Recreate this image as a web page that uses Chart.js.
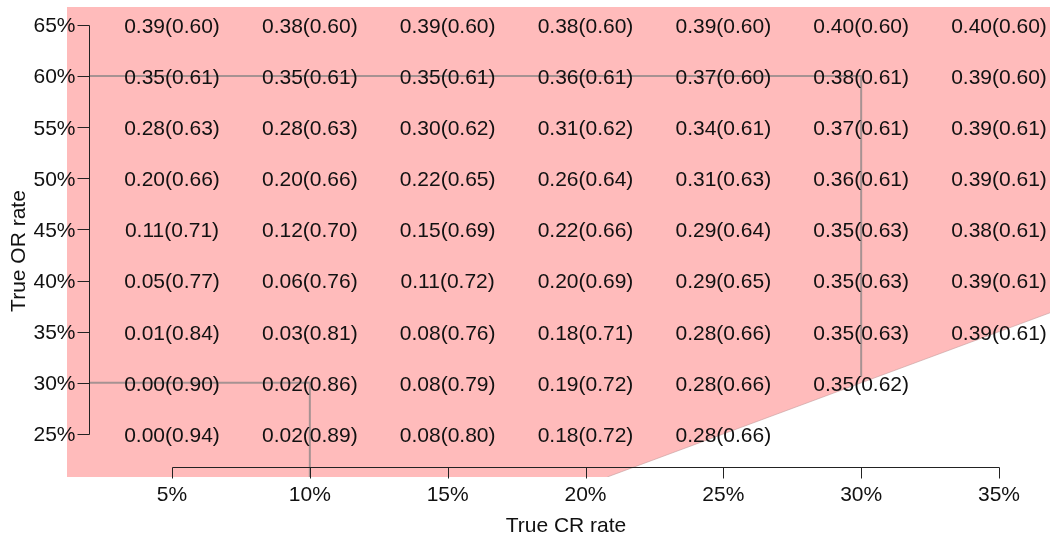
<!DOCTYPE html>
<html><head><meta charset="utf-8">
<script src="https://cdn.jsdelivr.net/npm/chart.js@4.4.0/dist/chart.umd.min.js"></script>
<style>html,body{margin:0;padding:0;background:#fff;overflow:hidden}canvas{display:block}</style>
</head><body>
<canvas id="c" width="1050" height="535"></canvas>
<script>
// ---- data ----
const crRates = [5, 10, 15, 20, 25, 30, 35];           // True CR rate (%)
const orRates = [65, 60, 55, 50, 45, 40, 35, 30, 25];  // True OR rate (%)
const xTickLabels = ['5%', '10%', '15%', '20%', '25%', '30%', '35%'];
const yTickLabels = ['65%', '60%', '55%', '50%', '45%', '40%', '35%', '30%', '25%'];
// rows follow orRates, columns follow crRates ('' = no value)
const cellRows = [
  ['0.39(0.60)', '0.38(0.60)', '0.39(0.60)', '0.38(0.60)', '0.39(0.60)', '0.40(0.60)', '0.40(0.60)'],
  ['0.35(0.61)', '0.35(0.61)', '0.35(0.61)', '0.36(0.61)', '0.37(0.60)', '0.38(0.61)', '0.39(0.60)'],
  ['0.28(0.63)', '0.28(0.63)', '0.30(0.62)', '0.31(0.62)', '0.34(0.61)', '0.37(0.61)', '0.39(0.61)'],
  ['0.20(0.66)', '0.20(0.66)', '0.22(0.65)', '0.26(0.64)', '0.31(0.63)', '0.36(0.61)', '0.39(0.61)'],
  ['0.11(0.71)', '0.12(0.70)', '0.15(0.69)', '0.22(0.66)', '0.29(0.64)', '0.35(0.63)', '0.38(0.61)'],
  ['0.05(0.77)', '0.06(0.76)', '0.11(0.72)', '0.20(0.69)', '0.29(0.65)', '0.35(0.63)', '0.39(0.61)'],
  ['0.01(0.84)', '0.03(0.81)', '0.08(0.76)', '0.18(0.71)', '0.28(0.66)', '0.35(0.63)', '0.39(0.61)'],
  ['0.00(0.90)', '0.02(0.86)', '0.08(0.79)', '0.19(0.72)', '0.28(0.66)', '0.35(0.62)', ''],
  ['0.00(0.94)', '0.02(0.89)', '0.08(0.80)', '0.18(0.72)', '0.28(0.66)', '', '']
];
// reference paths (CR %, OR %)
const pathA = [{x: 2, y: 60}, {x: 30, y: 60}, {x: 30, y: 30.6}];
const pathB = [{x: 2, y: 30}, {x: 10, y: 30}, {x: 10, y: 20.79}];

// ---- scale range / axis placement ----
const X_MIN = 1.191, X_MAX = 36.85, Y_MIN = 20.79, Y_MAX = 66.76;
const Y_AXIS_AT_CR = 2.0, X_AXIS_AT_OR = 21.77;
const FONT = '"Liberation Sans", Arial, Helvetica, sans-serif';

// region where OR >= CR, bounded below by the OR = CR diagonal
const regionLower = [{x: X_MIN, y: Y_MIN}, {x: Y_MIN, y: Y_MIN}, {x: X_MAX, y: X_MAX}];
const regionEdge = [{x: Y_MIN, y: Y_MIN}, {x: X_MAX, y: X_MAX}];

const cellPoints = [];
orRates.forEach((o, i) => crRates.forEach((c, j) => {
  if (cellRows[i][j]) cellPoints.push({x: c, y: o, t: cellRows[i][j]});
}));

const rPlugin = {
  id: 'rstyle',
  afterDatasetsDraw(chart) {
    const {ctx, scales: {x, y}} = chart;
    ctx.save();
    // cell labels
    const meta = chart.getDatasetMeta(4);
    ctx.fillStyle = '#111';
    ctx.font = '21px ' + FONT;
    ctx.textAlign = 'center';
    ctx.textBaseline = 'middle';
    meta.data.forEach((el, k) => {
      ctx.fillText(cellPoints[k].t, el.x, el.y + 2);
    });
    // y axis
    ctx.strokeStyle = '#222';
    ctx.lineWidth = 1;
    const ax = Math.round(x.getPixelForValue(Y_AXIS_AT_CR)) + 0.5;
    const yTop = y.getPixelForValue(orRates[0]);
    const yBot = y.getPixelForValue(orRates[orRates.length - 1]);
    ctx.beginPath();
    ctx.moveTo(ax, Math.round(yTop) + 0.5);
    ctx.lineTo(ax, Math.round(yBot) + 0.5);
    orRates.forEach(o => {
      const py = Math.round(y.getPixelForValue(o)) + 0.5;
      ctx.moveTo(ax, py); ctx.lineTo(ax - 12, py);
    });
    ctx.stroke();
    ctx.fillStyle = '#111';
    ctx.textAlign = 'right';
    ctx.textBaseline = 'middle';
    orRates.forEach((o, i) => {
      ctx.fillText(yTickLabels[i], ax - 14, y.getPixelForValue(o) + 1.5);
    });
    // x axis
    const ay = Math.round(y.getPixelForValue(X_AXIS_AT_OR)) + 0.5;
    ctx.beginPath();
    ctx.moveTo(Math.round(x.getPixelForValue(crRates[0])) + 0.5, ay);
    ctx.lineTo(Math.round(x.getPixelForValue(crRates[crRates.length - 1])) + 0.5, ay);
    crRates.forEach(c => {
      const px = Math.round(x.getPixelForValue(c)) + 0.5;
      ctx.moveTo(px, ay); ctx.lineTo(px, ay + 11);
    });
    ctx.stroke();
    ctx.textAlign = 'center';
    ctx.textBaseline = 'alphabetic';
    crRates.forEach((c, i) => {
      ctx.fillText(xTickLabels[i], x.getPixelForValue(c), ay + 33);
    });
    // axis titles
    ctx.fillText('True CR rate', 566, 532);
    ctx.translate(25, 251);
    ctx.rotate(-Math.PI / 2);
    ctx.fillText('True OR rate', 0, 0);
    ctx.restore();
  }
};

new Chart(document.getElementById('c'), {
  type: 'scatter',
  data: {
    datasets: [
      {
        data: regionLower, showLine: true, fill: 'end', order: 10,
        backgroundColor: '#FFBBBB', borderWidth: 0, borderColor: 'rgba(0,0,0,0)',
        pointRadius: 0, tension: 0
      },
      {data: regionEdge, showLine: true, fill: false, order: 9, borderColor: 'rgba(190,150,150,0.55)', borderWidth: 1, pointRadius: 0},
      {data: pathA, showLine: true, fill: false, order: 1, borderColor: 'rgba(128,128,128,0.7)', borderWidth: 2, pointRadius: 0},
      {data: pathB, showLine: true, fill: false, order: 1, borderColor: 'rgba(128,128,128,0.7)', borderWidth: 2, pointRadius: 0},
      {data: cellPoints, order: 0, pointRadius: 0, showLine: false}
    ]
  },
  options: {
    responsive: false, animation: false, devicePixelRatio: 1, events: [],
    layout: {padding: {left: 67, top: 7, right: 0, bottom: 58}},
    plugins: {legend: {display: false}, tooltip: {enabled: false}, title: {display: false}},
    scales: {
      x: {type: 'linear', min: X_MIN, max: X_MAX, display: false},
      y: {type: 'linear', min: Y_MIN, max: Y_MAX, display: false}
    }
  },
  plugins: [rPlugin]
});
</script>
</body></html>
